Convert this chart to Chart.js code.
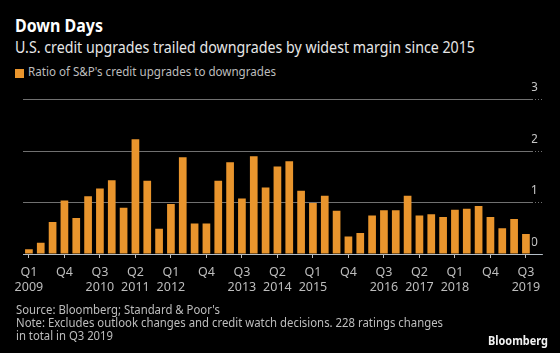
<!DOCTYPE html>
<html><head><meta charset="utf-8">
<script src="https://cdn.jsdelivr.net/npm/chart.js@4.4.0/dist/chart.umd.min.js"></script>
<style>
html,body{margin:0;padding:0;background:#000;width:560px;height:353px;overflow:hidden;}
body{position:relative;font-family:"Noto Sans",sans-serif;}
.t{position:absolute;white-space:nowrap;line-height:1;transform-origin:0 0;}
#title{left:15px;top:17px;font-size:17px;font-weight:bold;color:#fff;}
#subtitle{left:15px;top:38px;font-size:17px;color:#e6e6e6;}
#legsw{position:absolute;left:15px;top:69px;width:9px;height:9px;background:#e9952d;}
#legend{left:28px;top:66px;font-size:12.5px;color:#bdbdbd;}
#src1{left:16px;top:304px;font-size:12px;color:#bdbdbd;}
#src2{left:16px;top:317px;font-size:12px;color:#bdbdbd;}
#src3{left:16px;top:330px;font-size:12px;color:#bdbdbd;}
#brand{left:488px;top:335px;font-size:12.5px;font-weight:bold;color:#f2f2f2;}
#wrap{position:absolute;left:0;top:0;width:560px;height:302px;}
</style>
</head><body>
<div id="title" class="t" data-w="88">Down Days</div>
<div id="subtitle" class="t" data-w="460">U.S. credit upgrades trailed downgrades by widest margin since 2015</div>
<div id="legsw"></div>
<div id="legend" class="t" data-w="248">Ratio of S&amp;P's credit upgrades to downgrades</div>
<div id="wrap"><canvas id="c"></canvas></div>
<div id="src1" class="t" data-w="204">Source: Bloomberg; Standard &amp; Poor's</div>
<div id="src2" class="t" data-w="427">Note: Excludes outlook changes and credit watch decisions. 228 ratings changes</div>
<div id="src3" class="t" data-w="97">in total in Q3 2019</div>
<div id="brand" class="t" data-w="60">Bloomberg</div>
<script>
const categories = [
  'Q1 2009','Q2 2009','Q3 2009','Q4 2009',
  'Q1 2010','Q2 2010','Q3 2010','Q4 2010',
  'Q1 2011','Q2 2011','Q3 2011','Q4 2011',
  'Q1 2012','Q2 2012','Q3 2012','Q4 2012',
  'Q1 2013','Q2 2013','Q3 2013','Q4 2013',
  'Q1 2014','Q2 2014','Q3 2014','Q4 2014',
  'Q1 2015','Q2 2015','Q3 2015','Q4 2015',
  'Q1 2016','Q2 2016','Q3 2016','Q4 2016',
  'Q1 2017','Q2 2017','Q3 2017','Q4 2017',
  'Q1 2018','Q2 2018','Q3 2018','Q4 2018',
  'Q1 2019','Q2 2019','Q3 2019'
];
const upgradeDowngradeRatio = [
  0.09,0.22,0.62,1.04,
  0.70,1.12,1.27,1.43,
  0.90,2.23,1.42,0.49,
  0.97,1.88,0.59,0.59,
  1.42,1.78,1.08,1.90,
  1.29,1.70,1.80,1.23,
  0.99,1.13,0.84,0.34,
  0.41,0.75,0.85,0.85,
  1.13,0.75,0.77,0.72,
  0.86,0.88,0.93,0.72,
  0.50,0.68,0.39
];
const tickStep = 3;
const xTickLabels = [
  ['Q1','2009'],'Q4',['Q3','2010'],['Q2','2011'],['Q1','2012'],'Q4',
  ['Q3','2013'],['Q2','2014'],['Q1','2015'],'Q4',['Q3','2016'],
  ['Q2','2017'],['Q1','2018'],'Q4',['Q3','2019']
];
const yTicks = [0,1,2,3];

// fit text widths to the reference layout
document.querySelectorAll('.t[data-w]').forEach(el => {
  const w = el.getBoundingClientRect().width;
  const target = parseFloat(el.dataset.w);
  if (w > 0) el.style.transform = 'scaleX(' + (target / w) + ')';
});

const orange = '#e9952d';
const fontFam = '"Noto Sans", sans-serif';
const gridGray = '#707070';
const baseGray = '#b4bec8';

new Chart(document.getElementById('c'), {
  type: 'bar',
  data: {
    labels: categories,
    datasets: [{
      label: "Ratio of S&P's credit upgrades to downgrades",
      data: upgradeDowngradeRatio,
      backgroundColor: orange,
      borderWidth: 0,
      categoryPercentage: 1,
      barPercentage: 0.65
    }]
  },
  options: {
    responsive: true,
    maintainAspectRatio: false,
    animation: false,
    layout: { padding: { left: 23, right: 22, top: 99.5, bottom: 0 } },
    plugins: { legend: { display: false }, tooltip: { enabled: false }, title: { display: false } },
    scales: {
      x: {
        offset: true,
        grid: {
          display: true,
          drawOnChartArea: false,
          drawTicks: true,
          offset: false,
          tickLength: 4,
          tickColor: ctx => (ctx.index % tickStep === 0) ? '#bdbdbd' : 'rgba(0,0,0,0)'
        },
        border: { display: false },
        ticks: {
          autoSkip: false,
          maxRotation: 0,
          minRotation: 0,
          padding: 7,
          color: '#bdbdbd',
          font: { family: fontFam, size: 12.5, lineHeight: 1.2 },
          callback: (v, i) => (i % tickStep === 0) ? xTickLabels[i / tickStep] : ''
        }
      },
      y: {
        position: 'right',
        min: 0,
        max: 3,
        afterBuildTicks: axis => { axis.ticks = yTicks.map(v => ({ value: v })); },
        grid: {
          color: ctx => (ctx.tick && ctx.tick.value === 0) ? baseGray : gridGray,
          borderDash: ctx => (ctx.tick && ctx.tick.value === 0) ? [] : [1, 2],
          tickBorderDash: ctx => (ctx.tick && ctx.tick.value === 0) ? [] : [1, 2],
          tickColor: ctx => (ctx.tick && ctx.tick.value === 0) ? baseGray : gridGray,
          tickLength: 11,
          lineWidth: 1
        },
        border: { display: false },
        ticks: {
          color: '#c4c4c4',
          font: { family: fontFam, size: 12.5 },
          labelOffset: -12,
          padding: -6,
          crossAlign: 'far'
        }
      }
    }
  }
});
</script>
</body></html>
